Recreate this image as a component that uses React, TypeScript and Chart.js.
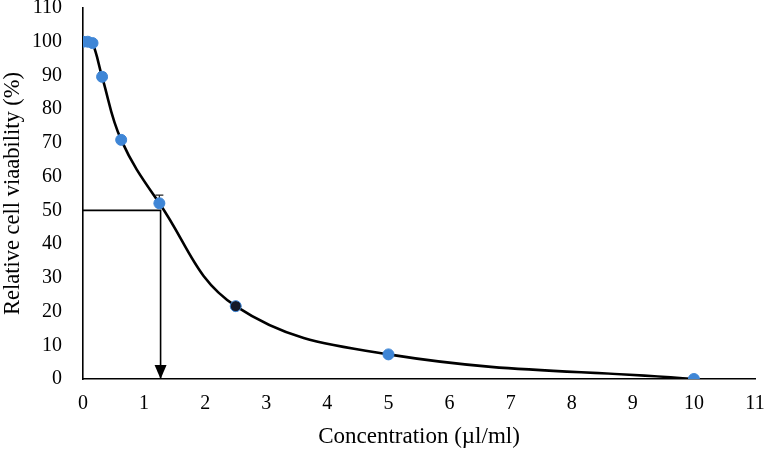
import React, { useEffect, useRef } from "react";
import { Chart, registerables } from "chart.js";

Chart.register(...registerables);

// Concentration (µl/ml)
const concentrations = [0, 0.078, 0.156, 0.3125, 0.625, 1.25, 2.5, 5, 10];
// Relative cell viability (%)
const viability = [100, 100, 99.6, 89.6, 70.9, 52.1, 21.6, 7.3, 0];
// upper error values
const errors = [0, 0, 0, 1.2, 1.0, 2.4, 0.5, 0.5, 0];
// IC50 guide
const ic50X = 1.27;
const ic50Y = 50;

const xMin = 0, xMax = 11, xStep = 1;
const yMin = 0, yMax = 110, yStep = 10;

const FONT = "'Liberation Serif', 'Times New Roman', serif";
const BLUE = "#3f86d6";

const errorBarPlugin = {
  id: "errorBars",
  beforeDatasetsDraw(chart: any) {
    const ctx = chart.ctx;
    const xs = chart.scales.x;
    const ys = chart.scales.y;
    ctx.save();
    ctx.strokeStyle = "#222";
    ctx.lineWidth = 1.2;
    concentrations.forEach((c, i) => {
      const e = errors[i];
      if (!e) return;
      const px = xs.getPixelForValue(c);
      const py = ys.getPixelForValue(viability[i]);
      const pt = ys.getPixelForValue(viability[i] + e);
      ctx.beginPath();
      ctx.moveTo(px, py);
      ctx.lineTo(px, pt);
      ctx.moveTo(px - 4, pt);
      ctx.lineTo(px + 4, pt);
      ctx.stroke();
    });
    ctx.restore();
  },
  afterDatasetsDraw(chart: any) {
    const ctx = chart.ctx;
    const xs = chart.scales.x;
    const ys = chart.scales.y;
    const px = xs.getPixelForValue(ic50X);
    const py = ys.getPixelForValue(0);
    ctx.save();
    ctx.fillStyle = "#000";
    ctx.beginPath();
    ctx.moveTo(px, py);
    ctx.lineTo(px - 6, py - 14);
    ctx.lineTo(px + 6, py - 14);
    ctx.closePath();
    ctx.fill();
    ctx.restore();
  },
};

export default function App() {
  const ref = useRef<HTMLCanvasElement>(null);
  useEffect(() => {
    if (!ref.current) return;
    const pts = concentrations.map((c, i) => ({ x: c, y: viability[i] }));
    const chart = new Chart(ref.current, {
      type: "scatter",
      data: {
        datasets: [
          {
            type: "scatter",
            data: pts,
            pointRadius: 5.5,
            pointBackgroundColor: concentrations.map((c) => (c === 2.5 ? "#151a2a" : BLUE)),
            pointBorderColor: BLUE,
            pointBorderWidth: 1,
          } as any,
          {
            type: "line",
            data: pts,
            borderColor: "#000",
            borderWidth: 2.6,
            pointRadius: 0,
            tension: 0.4,
            fill: false,
          } as any,
          {
            type: "line",
            data: [
              { x: 0, y: ic50Y },
              { x: ic50X, y: ic50Y },
              { x: ic50X, y: 0 },
            ],
            borderColor: "#000",
            borderWidth: 1.6,
            pointRadius: 0,
            tension: 0,
            fill: false,
          } as any,
        ],
      },
      options: {
        animation: false,
        responsive: true,
        maintainAspectRatio: false,
        layout: { padding: 0 },
        plugins: { legend: { display: false }, tooltip: { enabled: false } },
        scales: {
          x: {
            type: "linear",
            min: xMin,
            max: xMax,
            ticks: { stepSize: xStep, padding: 13, color: "#000", font: { family: FONT, size: 20 } },
            grid: { display: false, drawTicks: false },
            border: { display: true, color: "#000", width: 1.6 },
            title: {
              display: true,
              text: "Concentration (µl/ml)",
              color: "#000",
              font: { family: FONT, size: 23 },
              padding: { top: 0, bottom: 1 },
            },
            afterFit(s: any) {
              s.height = 73;
              s.paddingLeft = 0;
              s.paddingRight = 13;
            },
          },
          y: {
            type: "linear",
            min: yMin,
            max: yMax,
            ticks: { stepSize: yStep, padding: 21, color: "#000", font: { family: FONT, size: 20 } },
            grid: { display: false, drawTicks: false },
            border: { display: true, color: "#000", width: 1.6 },
            title: {
              display: true,
              text: "Relative cell viaability (%)",
              color: "#000",
              font: { family: FONT, size: 22.5 },
              padding: { top: 0, bottom: 0 },
            },
            afterFit(s: any) {
              s.width = 83;
              s.paddingTop = 8;
              s.paddingBottom = 0;
            },
          },
        },
      },
      plugins: [errorBarPlugin],
    });
    return () => chart.destroy();
  }, []);
  return (
    <div style={{ position: "absolute", left: 0, top: 0, width: 768, height: 452, background: "#fff" }}>
      <canvas ref={ref} />
    </div>
  );
}
